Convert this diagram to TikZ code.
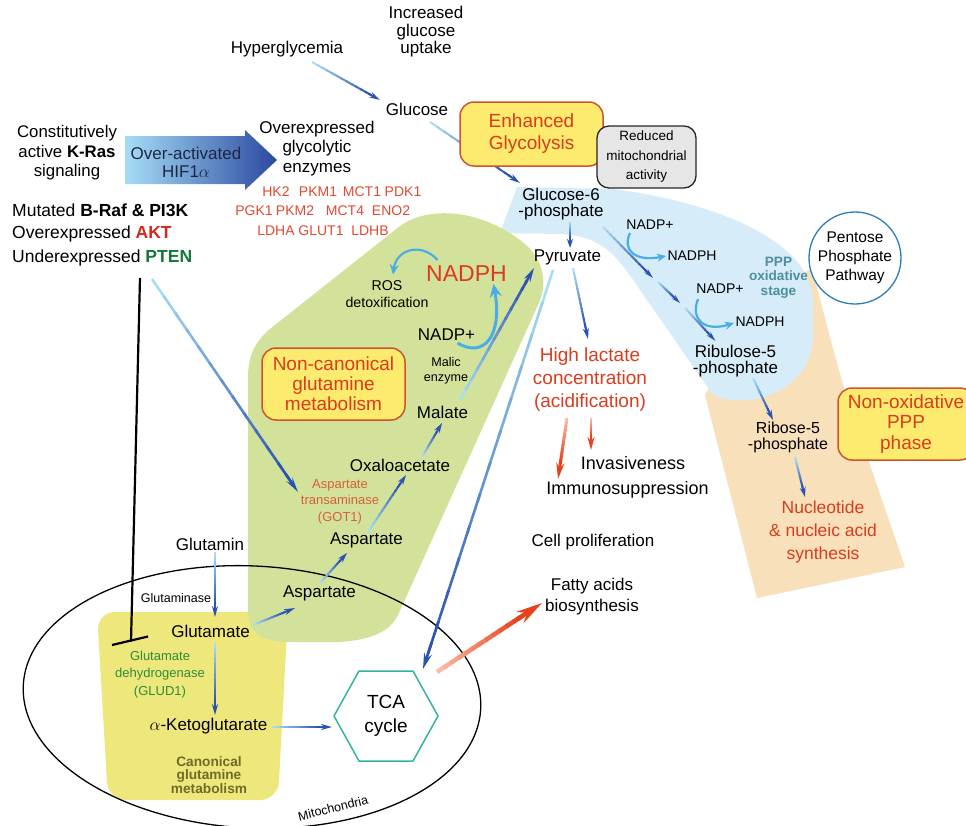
\documentclass[tikz,border=0pt]{standalone}
\usepackage{fontspec}
\setmainfont{Liberation Sans}
\usetikzlibrary{arrows.meta,calc}

\definecolor{lb}{HTML}{A8DDF5}
\definecolor{db}{HTML}{2B52B0}
\definecolor{cy}{HTML}{4AAEE6}
\definecolor{lo}{HTML}{F9BCA4}
\definecolor{dor}{HTML}{E8421C}
\definecolor{greenreg}{HTML}{D3E29B}
\definecolor{yelreg}{HTML}{EEE87C}
\definecolor{bluereg}{HTML}{D6ECF8}
\definecolor{orareg}{HTML}{F8E0BA}
\definecolor{boxyel}{HTML}{FCEB6E}
\definecolor{boxbrd}{HTML}{D0542A}
\definecolor{redtxt}{HTML}{DA3C1E}
\definecolor{gottxt}{HTML}{D5603C}
\definecolor{enztxt}{HTML}{E04A30}
\definecolor{grntxt}{HTML}{2E8B3A}
\definecolor{ptentxt}{HTML}{16773A}
\definecolor{akttxt}{HTML}{D42A1E}
\definecolor{canontxt}{HTML}{6F6B28}
\definecolor{tealtxt}{HTML}{4F8E9C}
\definecolor{tcaedge}{HTML}{33B3A0}
\definecolor{pppedge}{HTML}{2B7DBB}
\definecolor{hifA}{HTML}{A6DDF5}
\definecolor{hifB}{HTML}{2A48A0}
\definecolor{hiftxt}{HTML}{1C2745}
\definecolor{graybox}{HTML}{E6E6E6}

\tikzset{
  fs/.style 2 args={font=\fontsize{#1}{#2}\selectfont},
  fsb/.style 2 args={font=\fontsize{#1}{#2}\selectfont\bfseries},
  lbl/.style={inner sep=0pt, align=center},
  glbox/.style={rounded corners=14pt, fill=boxyel, draw=boxbrd, line width=1.5pt, align=center, inner sep=0pt, text=redtxt},
  enz/.style={inner sep=0pt, text=enztxt, fs={14}{14}},
  cyarrow/.style={draw=cy, line width=2.2pt, -{Stealth[length=9pt,width=8pt]}},
  inhib/.style={line width=2.2pt, draw=black},
}

% gradient arrow: [line opts]{start colour}{end colour}{from}{to}{tip length}{tip width}
\newcommand\gradarrow[7][]{%
  \coordinate (gaS) at (#4);%
  \coordinate (gaT) at (#5);%
  \coordinate (gaE) at ($(gaT)!#6!(gaS)$);%
  \foreach \k in {0,...,11}{%
    \pgfmathsetmacro\gaa{\k/12}%
    \pgfmathsetmacro\gab{min(1,(\k+1)/12+0.02)}%
    \pgfmathtruncatemacro\gac{100-\k*9}%
    \draw[#1, draw=#2!\gac!#3] ($(gaS)!\gaa!(gaE)$) -- ($(gaS)!\gab!(gaE)$);%
  }%
  \draw[#1, draw=#3, -{Stealth[length=#6,width=#7]}] ($(gaS)!0.97!(gaE)$) -- (gaT);%
}

\begin{document}
\begin{tikzpicture}[x=1pt,y=-1pt]
\useasboundingbox (0,0) rectangle (966,825);
\fill[white] (0,0) rectangle (966,825);

% ---------- background regions ----------
\fill[orareg] (760,300) -- (812,268) -- (828,330) -- (845,392) -- (905,567) -- (757,598) -- (705,395) -- cycle;
\fill[bluereg] (517,187) -- (613,189) .. controls (700,200) and (810,235) .. (813,300) -- (813,340)
   .. controls (808,395) and (745,410) .. (713,395) -- (640,290) .. controls (615,252) and (600,236) .. (560,234) -- (500,233) -- cycle;
\fill[yelreg, rounded corners=18pt] (97,612) -- (288,612) -- (278,800) -- (108,800) -- cycle;
\fill[greenreg] (248,610) -- (248,378) .. controls (248,355) and (255,340) .. (275,325) -- (400,226)
   .. controls (430,205) and (480,210) .. (520,240) .. controls (545,258) and (548,285) .. (538,305)
   -- (398,615) .. controls (390,632) and (370,640) .. (340,642) -- (290,642) .. controls (260,642) and (248,632) .. (248,610) -- cycle;
\draw[line width=1.3pt, rotate around={-3:(252,697)}] (252,697) ellipse [x radius=229pt, y radius=131pt];

\node[circle, draw=pppedge, line width=1.3pt, fill=white, minimum size=92pt, inner sep=0pt, align=center, fs={15.5}{19}] (ppp) at (855,258) {Pentose\\Phosphate\\Pathway};

% ---------- HIF1a big arrow ----------
\shade[left color=hifA, right color=hifB] (125,136) -- (245,136) -- (245,130) -- (277,160) -- (245,190) -- (245,184) -- (125,184) -- cycle;

% ---------- text nodes ----------
\node[lbl, fs={17}{17.5}] (inc) at (426,32) {Increased\\glucose\\uptake};
\node[lbl, fs={17}{17}] (hyper) at (287,49) {Hyperglycemia};
\node[lbl, fs={17}{17}] (glucose) at (417,109) {Glucose};
\node[lbl, fs={16.8}{19.5}] (kras) at (67,153) {Constitutively\\active \textbf{K-Ras}\\signaling};
\node[lbl, fs={17}{18}, text=hiftxt] (hif) at (186,162) {Over-activated\\HIF1$\alpha$};
\node[lbl, fs={17}{19.5}] (ovx) at (317,148.5) {Overexpressed\\glycolytic\\enzymes};

\node[enz] (e1) at (276,192) {HK2};
\node[enz] (e2) at (318,192) {PKM1};
\node[enz] (e3) at (362,192) {MCT1};
\node[enz] (e4) at (403,192) {PDK1};
\node[enz] (e5) at (254,211) {PGK1};
\node[enz] (e6) at (295,211) {PKM2};
\node[enz] (e7) at (345,211) {MCT4};
\node[enz] (e8) at (391,211) {ENO2};
\node[enz] (e9) at (276,231) {LDHA};
\node[enz] (e10) at (321,231) {GLUT1};
\node[enz] (e11) at (370,231) {LDHB};

\node[lbl, anchor=west, fs={17.5}{17.5}] (braf) at (12,210) {Mutated \textbf{B-Raf \& PI3K}};
\node[lbl, anchor=west, fs={17.5}{17.5}] (akt) at (12,234) {Overexpressed \textbf{\color{akttxt}AKT}};
\node[lbl, anchor=west, fs={17.5}{17.5}] (pten) at (12,258) {Underexpressed \textbf{\color{ptentxt}PTEN}};

\node[lbl, fs={17}{16.5}] (g6p) at (561,204) {Glucose-6\\-phosphate};
\node[lbl, fs={17}{17}] (pyr) at (567.5,257) {Pyruvate};
\node[lbl, fs={14}{14}] (nadpA) at (650,225) {NADP+};
\node[lbl, fs={14}{14}] (nadphA) at (692,256) {NADPH};
\node[lbl, fs={14}{14}] (nadpB) at (720,289) {NADP+};
\node[lbl, fs={14}{14}] (nadphB) at (760,322) {NADPH};
\node[lbl, fsb={13.6}{14.5}, text=tealtxt] (pppox) at (778.5,277.5) {PPP\\oxidative\\stage};
\node[lbl, fs={17}{16}] (rib) at (735.5,361) {Ribulose-5\\-phosphate};
\node[lbl, fs={16}{16}] (r5p) at (788,437) {Ribose-5\\-phosphate};
\node[lbl, fs={17.5}{23}, text=redtxt] (nucl) at (823,532) {Nucleotide\\\& nucleic acid\\synthesis};
\node[lbl, fs={19}{23}, text=redtxt] (lact) at (590,380) {High lactate\\concentration\\(acidification)};
\node[lbl, fs={18}{18}] (inv) at (633,463) {Invasiveness};
\node[lbl, fs={18}{18}] (immuno) at (627.5,490) {Immunosuppression};
\node[lbl, fs={17}{17}] (cellp) at (593,542) {Cell proliferation};
\node[lbl, fs={17}{21}] (fatty) at (592,596.5) {Fatty acids\\biosynthesis};

\node[lbl, fs={23}{23}, text=redtxt] (nadph) at (466.5,274) {NADPH};
\node[lbl, fs={14.2}{17}] (ros) at (387,294.5) {ROS\\detoxification};
\node[lbl, fs={17}{17}] (nadpC) at (446.5,335) {NADP+};
\node[lbl, fs={12.6}{15}] (malic) at (446,370.5) {Malic\\enzyme};
\node[lbl, fs={17}{17}] (malate) at (442.5,412) {Malate};
\node[lbl, fs={17}{17}] (oxalo) at (400,465) {Oxaloacetate};
\node[lbl, fs={13}{16.5}, text=gottxt] (got) at (340,501.5) {Aspartate\\transaminase\\(GOT1)};
\node[lbl, fs={17}{17}] (aspA) at (366.5,540) {Aspartate};
\node[lbl, fs={17}{17}] (aspB) at (319.5,593) {Aspartate};
\node[lbl, fs={17}{17}] (glutamin) at (210,544) {Glutamin};
\node[lbl, fs={12.5}{12.5}] (glnase) at (176,598) {Glutaminase};
\node[lbl, fs={17}{17}] (glutamate) at (210.5,631) {Glutamate};
\node[lbl, fs={13}{17.5}, text=grntxt] (glud) at (160,674.5) {Glutamate\\dehydrogenase\\(GLUD1)};
\node[lbl, fs={17}{17}] (akg) at (208.5,726) {$\alpha$-Ketoglutarate};
\node[lbl, fsb={13.7}{13.5}, text=canontxt] (canon) at (209,775) {Canonical\\glutamine\\metabolism};
\node[lbl, fs={12.5}{12.5}, rotate=14] (mito) at (333,808) {Mitochondria};
\node[lbl, fs={19}{24}] (tca) at (386,716) {TCA\\cycle};
\draw[draw=tcaedge, line width=1.5pt] ($(tca)+(-52,0)$) -- ($(tca)+(-27,-45)$) -- ($(tca)+(27,-45)$) -- ($(tca)+(52,0)$) -- ($(tca)+(27,45)$) -- ($(tca)+(-27,45)$) -- cycle;

% ---------- arrows (those passing behind boxes first) ----------
\gradarrow[line width=2pt]{lb}{db}{$(hyper)+(25,13)$}{$(glucose)+(-37,-9)$}{11pt}{6pt}
\gradarrow[line width=2pt]{lb}{db}{$(glucose)+(13,13)$}{$(g6p)+(-41,-21)$}{11pt}{6pt}

% ---------- boxes ----------
\node[glbox, minimum width=143pt, minimum height=64pt, fs={19}{22}] (eg) at (531.5,134) {Enhanced\\Glycolysis};
\node[draw=black!85, fill=graybox, rounded corners=12pt, line width=1.3pt, minimum width=99pt, minimum height=62pt, align=center, inner sep=0pt, fs={13.5}{19.5}] (rma) at (646.5,157) {Reduced\\mitochondrial\\activity};
\node[glbox, minimum width=143pt, minimum height=72pt, fs={19}{20}] (noncan) at (333.5,384) {Non-canonical\\glutamine\\metabolism};
\node[glbox, minimum width=136pt, minimum height=72pt, fs={19}{20.5}] (nonox) at (906,424) {Non-oxidative\\PPP\\phase};

% ---------- remaining arrows ----------
\gradarrow[line width=2pt]{lb}{db}{$(g6p)+(9,18)$}{$(pyr)+(2.5,-9)$}{9pt}{6pt}
\coordinate (pcA) at (653,278);
\coordinate (pcB) at (658,282);
\coordinate (pcC) at (680,303);
\coordinate (pcD) at (685,308);
\gradarrow[line width=2pt]{lb}{db}{$(g6p)+(42,23)$}{pcA}{10pt}{5pt}
\gradarrow[line width=2pt]{lb}{db}{pcB}{pcC}{9pt}{5pt}
\gradarrow[line width=2pt]{lb}{db}{pcD}{$(rib)+(-20,-20)$}{10pt}{5pt}
\draw[cyarrow] ($(nadpA)+(-20,8)$) .. controls ($(nadpA)+(-28,25)$) and ($(nadpA)+(-15,37)$) .. ($(nadphA)+(-26,0)$);
\draw[cyarrow] ($(nadpB)+(-22,10)$) .. controls ($(nadpB)+(-30,31)$) and ($(nadpB)+(-15,43)$) .. ($(nadphB)+(-26,1)$);

\gradarrow[line width=2pt]{lb}{db}{$(pyr)+(5.5,11)$}{$(lact)+(-2,-41)$}{11pt}{6pt}
\gradarrow[line width=2.6pt]{lb}{db}{$(pyr)+(-14.5,13)$}{$(tca)+(37,-47)$}{16pt}{8pt}

\draw[draw=cy, line width=3pt, -{Stealth[length=13pt,width=12pt]}] ($(nadpC)+(11,8)$) .. controls ($(nadpC)+(38,24)$) and ($(nadpC)+(56,0)$) .. ($(nadph)+(27,10)$);
\draw[draw=cy, line width=2.2pt, -{Stealth[length=10pt,width=9pt]}] ($(nadph)+(-29,-14)$) .. controls ($(nadph)+(-45,-32)$) and ($(nadph)+(-70,-25)$) .. ($(ros)+(6,-20)$);
\gradarrow[line width=2.6pt]{lb}{db}{$(malate)+(17.5,-12)$}{$(pyr)+(-33.5,11)$}{14pt}{7pt}

\gradarrow[line width=2pt]{lb}{db}{$(aspB)+(0.5,-10)$}{$(aspA)+(-19.5,13)$}{10pt}{6pt}
\gradarrow[line width=2pt]{lb}{db}{$(aspA)+(1.5,-8)$}{$(oxalo)+(6,10)$}{10pt}{6pt}
\gradarrow[line width=2pt]{lb}{db}{$(oxalo)+(22,-8)$}{$(malate)+(-0.5,11)$}{10pt}{6pt}
\gradarrow[line width=2pt]{lb}{db}{$(glutamin)+(5,8)$}{$(glutamate)+(4.5,-14)$}{11pt}{6pt}
\gradarrow[line width=2pt]{lb}{db}{$(glutamate)+(42.5,-6)$}{$(aspB)+(-24.5,15)$}{11pt}{6pt}
\gradarrow[line width=2pt]{lb}{db}{$(glutamate)+(4.5,12)$}{$(akg)+(6.5,-11)$}{11pt}{6pt}
\gradarrow[line width=2pt]{lb}{db}{$(akg)+(63.5,1)$}{$(tca)+(-54,11)$}{11pt}{6pt}
\gradarrow[line width=2.6pt]{lb}{db}{$(pten.west)+(140,21)$}{$(got)+(-42,-9.5)$}{15pt}{7pt}

\gradarrow[line width=4.5pt]{lo}{dor}{$(tca)+(51,-44)$}{$(fatty)+(-50,6.5)$}{26pt}{13pt}
\gradarrow[line width=3pt]{lo}{dor}{$(lact)+(-23,38)$}{$(immuno)+(-69.5,-11)$}{16pt}{8pt}
\gradarrow[line width=2.5pt]{lo}{dor}{$(lact)+(1,38)$}{$(inv)+(-42,-13)$}{13pt}{7pt}

\gradarrow[line width=2pt]{lb}{db}{$(rib)+(17.5,17)$}{$(r5p)+(-15,-17)$}{10pt}{6pt}
\gradarrow[line width=2pt]{lb}{db}{$(r5p)+(7,20)$}{$(nucl)+(-18,-35)$}{10pt}{6pt}

% ---------- inhibition ----------
\coordinate (inhA) at ($(pten.west)+(128,20)$);
\coordinate (inhB) at ($(glud)+(-29,-33)$);
\draw[inhib] (inhA) -- (inhB);
\draw[inhib] ($(glud)+(-48,-29.5)$) -- ($(glud)+(-12,-38)$);
\end{tikzpicture}
\end{document}
